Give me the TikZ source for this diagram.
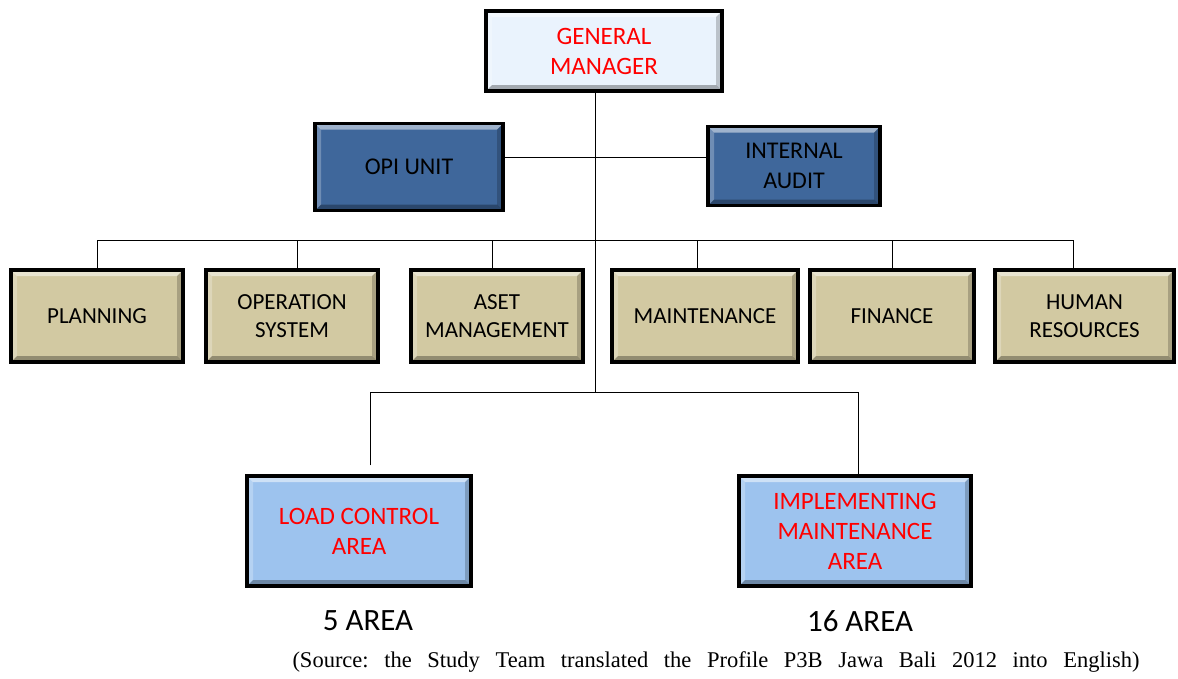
\documentclass[tikz,border=0pt]{standalone}
\usepackage{fontspec}
\setmainfont{Carlito}
\newfontfamily\srcfont{Liberation Serif}
\usetikzlibrary{calc}
\definecolor{gmfill}{HTML}{EAF3FD}
\definecolor{unitfill}{HTML}{3F679B}
\definecolor{deptfill}{HTML}{D2C9A2}
\definecolor{areafill}{HTML}{9DC3EE}
\definecolor{redtext}{HTML}{FF0000}
\tikzset{
  bevel/.style={path picture={
    \fill[white,opacity=0.5] (path picture bounding box.north west) -- (path picture bounding box.north east)
      -- ($(path picture bounding box.north east)+(-6pt,-6pt)$) -- ($(path picture bounding box.north west)+(6pt,-6pt)$) -- cycle;
    \fill[white,opacity=0.25] (path picture bounding box.north west) -- ($(path picture bounding box.north west)+(6pt,-6pt)$)
      -- ($(path picture bounding box.south west)+(6pt,6pt)$) -- (path picture bounding box.south west) -- cycle;
    \fill[black,opacity=0.2] (path picture bounding box.north east) -- (path picture bounding box.south east)
      -- ($(path picture bounding box.south east)+(-6pt,6pt)$) -- ($(path picture bounding box.north east)+(-6pt,-6pt)$) -- cycle;
    \fill[black,opacity=0.3] (path picture bounding box.south west) -- (path picture bounding box.south east)
      -- ($(path picture bounding box.south east)+(-6pt,6pt)$) -- ($(path picture bounding box.south west)+(6pt,6pt)$) -- cycle;
  }},
  box/.style={draw=black, line width=3.5pt, rectangle, align=center, inner sep=0pt, bevel},
  gmbox/.style={box, fill=gmfill, text=redtext, font=\fontsize{25}{30}\selectfont},
  unitbox/.style={box, fill=unitfill, text=black, font=\fontsize{24}{30}\selectfont},
  deptbox/.style={box, fill=deptfill, text=black, font=\fontsize{23}{28}\selectfont, minimum height=92pt},
  areabox/.style={box, fill=areafill, text=redtext, font=\fontsize{25}{30}\selectfont, minimum height=110pt},
  conn/.style={draw=black, line width=1pt},
  countlabel/.style={font=\fontsize{31}{36}\selectfont, text=black},
}
\begin{document}
\begin{tikzpicture}[x=1pt,y=-1pt]
\useasboundingbox (0,0) rectangle (1178,678);
% nodes
\node[gmbox, minimum width=236pt, minimum height=80pt] (gm) at (604,51) {GENERAL\\MANAGER};
\node[unitbox, minimum width=188pt, minimum height=87pt] (opi) at (409,167) {OPI UNIT};
\node[unitbox, minimum width=172pt, minimum height=79pt] (ia) at (794,166) {INTERNAL\\AUDIT};
\node[deptbox, minimum width=172pt] (plan) at (97,316) {PLANNING};
\node[deptbox, minimum width=172pt] (ops) at (292,316) {OPERATION\\SYSTEM};
\node[deptbox, minimum width=172pt] (aset) at (497,316) {ASET\\MANAGEMENT};
\node[deptbox, minimum width=186pt] (maint) at (705,316) {MAINTENANCE};
\node[deptbox, minimum width=164pt] (fin) at (892,316) {FINANCE};
\node[deptbox, minimum width=179pt] (hr) at (1084.5,316) {HUMAN\\RESOURCES};
\node[areabox, minimum width=224pt] (lca) at (359,531) {LOAD CONTROL\\AREA};
\node[areabox, minimum width=232pt] (ima) at (855,531) {IMPLEMENTING\\MAINTENANCE\\AREA};
\node[countlabel] (c5) at (368,621) {5 AREA};
\node[countlabel] (c16) at (860,621) {16 AREA};
\node[font=\srcfont\fontsize{22.5}{26}\selectfont] (src) at (716,662)
  {\frenchspacing\makebox[847pt][s]{(Source: the Study Team translated the Profile P3B Jawa Bali 2012 into English)}};
% coordinates
\coordinate (spine) at (595,392);
\coordinate (staff) at (595,157);
\coordinate (bus) at (595,240);
% connectors
\draw[conn] (gm.south -| spine) -- (spine);
\draw[conn] (opi.east |- staff) -- (ia.west |- staff);
\draw[conn] (plan.north |- bus) -- ([xshift=-11.5pt]hr.north |- bus);
\draw[conn] (plan.north) -- (plan.north |- bus);
\draw[conn] ([xshift=5pt]ops.north) -- ([xshift=5pt]ops.north |- bus);
\draw[conn] ([xshift=-5pt]aset.north) -- ([xshift=-5pt]aset.north |- bus);
\draw[conn] ([xshift=-8pt]maint.north) -- ([xshift=-8pt]maint.north |- bus);
\draw[conn] (fin.north) -- (fin.north |- bus);
\draw[conn] ([xshift=-11.5pt]hr.north) -- ([xshift=-11.5pt]hr.north |- bus);
\draw[conn] ([xshift=11pt,yshift=9pt]lca.north) -- ([xshift=11pt]lca.north |- spine) -- ([xshift=3pt]ima.north |- spine) -- ([xshift=3pt]ima.north);
\end{tikzpicture}
\end{document}
